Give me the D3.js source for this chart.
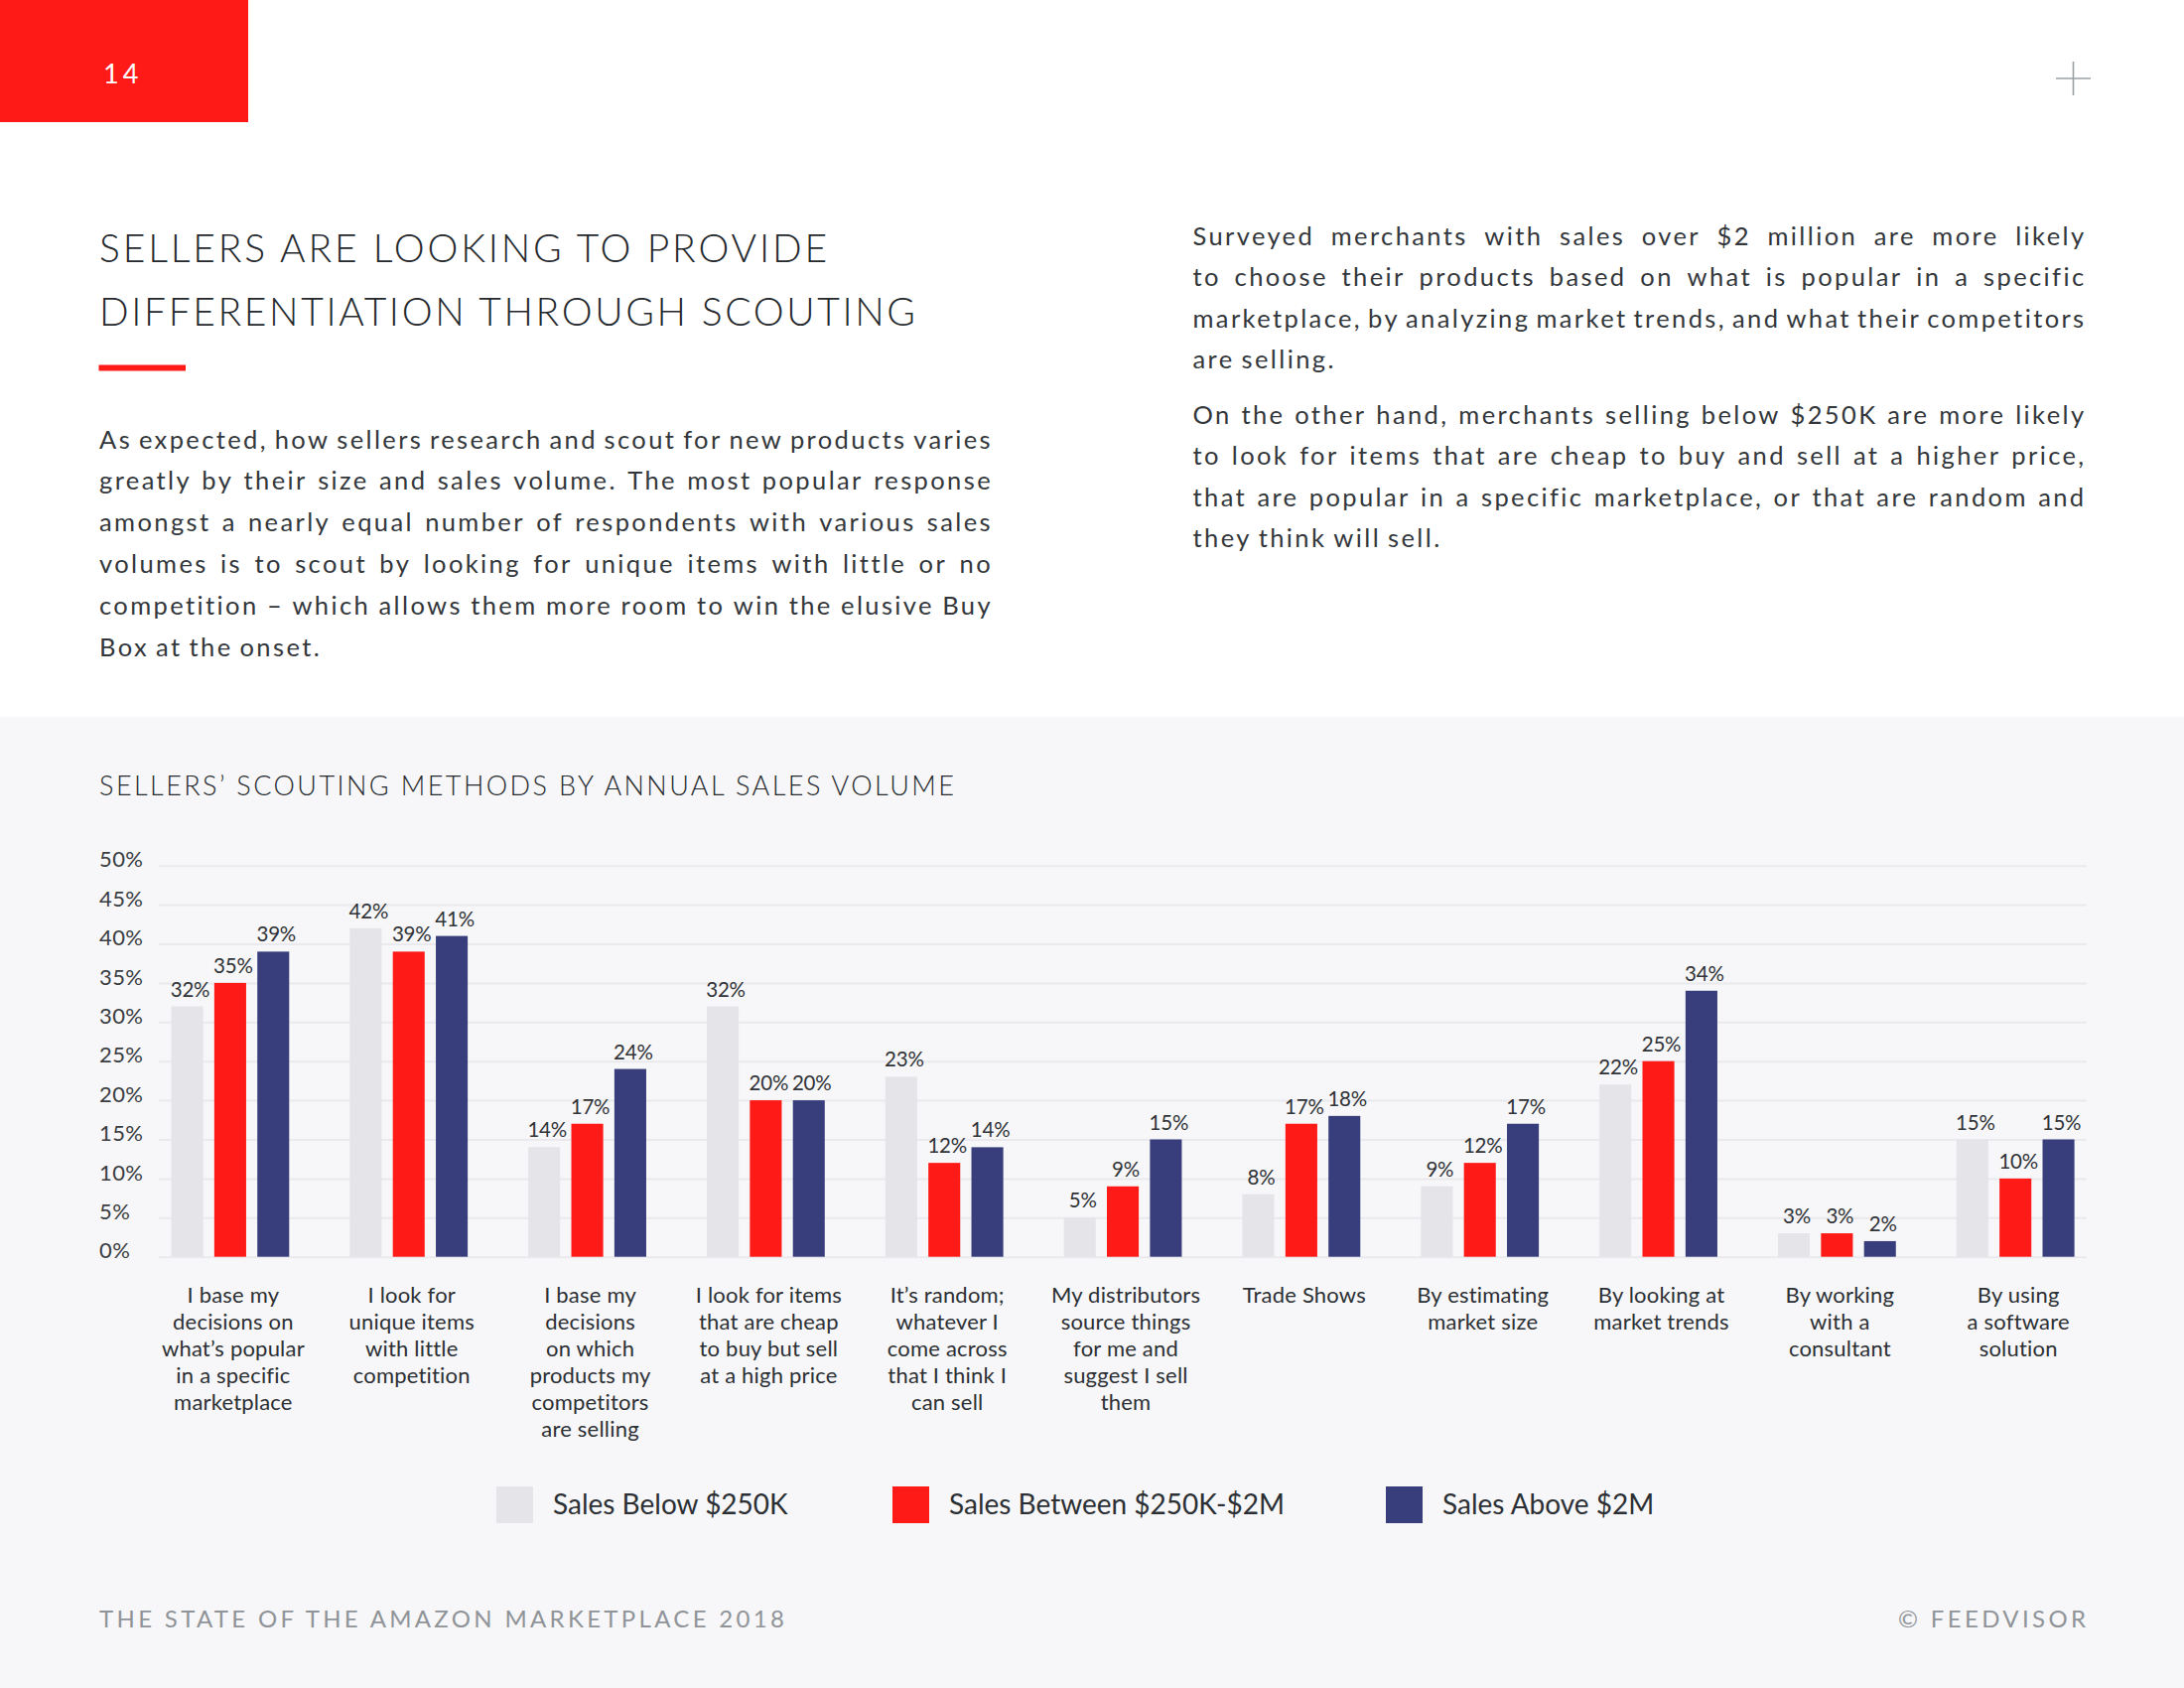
<!DOCTYPE html>
<html>
<head>
<meta charset="utf-8">
<title>Sellers' scouting methods by annual sales volume</title>
<script src="https://cdn.jsdelivr.net/npm/d3@7"></script>
<style>
  body { margin: 0; background: #ffffff; }
  svg { display: block; }
  text { font-family: Lato, "Open Sans", "Noto Sans", sans-serif; }
</style>
</head>
<body>
<svg id="page" width="2200" height="1700"></svg>
<script>
// Chart data
const seriesNames = ['Sales Below $250K', 'Sales Between $250K-$2M', 'Sales Above $2M'];
const categoryLines = [
    ['I base my', 'decisions on', 'what\u2019s popular', 'in a specific', 'marketplace'],
    ['I look for', 'unique items', 'with little', 'competition'],
    ['I base my', 'decisions', 'on which', 'products my', 'competitors', 'are selling'],
    ['I look for items', 'that are cheap', 'to buy but sell', 'at a high price'],
    ['It\u2019s random;', 'whatever I', 'come across', 'that I think I', 'can sell'],
    ['My distributors', 'source things', 'for me and', 'suggest I sell', 'them'],
    ['Trade Shows'],
    ['By estimating', 'market size'],
    ['By looking at', 'market trends'],
    ['By working', 'with a', 'consultant'],
    ['By using', 'a software', 'solution']
];
const salesBelow250k = [32, 42, 14, 32, 23, 5, 8, 9, 22, 3, 15];
const salesBetween = [35, 39, 17, 20, 12, 9, 17, 12, 25, 3, 10];
const salesAbove2m = [39, 41, 24, 20, 14, 15, 18, 17, 34, 2, 15];
const yTicks = [0, 5, 10, 15, 20, 25, 30, 35, 40, 45, 50];

// Page copy
const headingLines = ['SELLERS ARE LOOKING TO PROVIDE', 'DIFFERENTIATION THROUGH SCOUTING'];
const introLines = [
    'As expected, how sellers research and scout for new products varies',
    'greatly by their size and sales volume. The most popular response',
    'amongst a nearly equal number of respondents with various sales',
    'volumes is to scout by looking for unique items with little or no',
    'competition \u2013 which allows them more room to win the elusive Buy',
    'Box at the onset.'
];
const sideLinesA = [
    'Surveyed merchants with sales over $2 million are more likely',
    'to choose their products based on what is popular in a specific',
    'marketplace, by analyzing market trends, and what their competitors',
    'are selling.'
];
const sideLinesB = [
    'On the other hand, merchants selling below $250K are more likely',
    'to look for items that are cheap to buy and sell at a higher price,',
    'that are popular in a specific marketplace, or that are random and',
    'they think will sell.'
];
const chartTitle = 'SELLERS\u2019 SCOUTING METHODS BY ANNUAL SALES VOLUME';

const CONFIG = {
    colors: {
        red: '#fe1a17',
        below: '#e4e4e9',
        between: '#fe1a17',
        above: '#373e7b',
        ink: '#2c3034',
        grid: '#eaeaee',
        panel: '#f7f7f9',
        footer: '#909498',
        plus: '#9ba1a3'
    },
    plot: { left: 160, right: 2102, top: 871.7, bottom: 1265.7 },
    firstCenter: 231.9,
    lastCenter: 2030.2,
    groupWidth: 118.8,
    paraSize: 25.5,
    paraWidth: 900
};

const svg = d3.select('#page');

function drawHeader() {
    svg.append('rect').attr('x', 0).attr('y', 0).attr('width', 2200).attr('height', 1700).attr('fill', '#fff');
    svg.append('rect').attr('x', 0).attr('y', 0).attr('width', 250).attr('height', 123).attr('fill', CONFIG.colors.red);
    svg.append('text').attr('x', 104).attr('y', 84)
        .attr('font-size', 27).attr('letter-spacing', 4).attr('fill', '#fff').text('14');

    // plus mark top right
    svg.append('line').attr('x1', 2071).attr('x2', 2106).attr('y1', 79).attr('y2', 79)
        .attr('stroke', CONFIG.colors.plus).attr('stroke-width', 1.6);
    svg.append('line').attr('x1', 2088.5).attr('x2', 2088.5).attr('y1', 62).attr('y2', 96)
        .attr('stroke', CONFIG.colors.plus).attr('stroke-width', 1.6);

    const headingWidths = [733, 822];
    headingLines.forEach((line, i) => {
        svg.append('text').attr('x', 100).attr('y', 264 + i * 63.5)
            .attr('font-size', 39).attr('font-weight', 300).attr('fill', '#25292d')
            .attr('textLength', headingWidths[i]).attr('lengthAdjust', 'spacing')
            .text(line);
    });
    svg.append('rect').attr('x', 99.5).attr('y', 367.5).attr('width', 87.5).attr('height', 6)
        .attr('fill', CONFIG.colors.red);
}

/**
 * Find one letter-spacing for all paragraphs so the tightest justified line still fits
 */
function fitLetterSpacing(paragraphs) {
    const probe = svg.append('text').attr('font-size', CONFIG.paraSize);
    let best = Infinity;
    paragraphs.forEach(lines => {
        lines.slice(0, -1).forEach(line => {
            const words = line.split(' ');
            const natural = d3.sum(words, w => probe.text(w).node().getComputedTextLength());
            const chars = d3.sum(words, w => w.length);
            const ls = (CONFIG.paraWidth - natural - 6 * (words.length - 1)) / chars;
            best = Math.min(best, ls);
        });
    });
    probe.remove();
    return Math.max(0, best);
}

/**
 * Lay out a paragraph word by word so each line is justified to width
 */
function drawParagraph(lines, x, y0, lineHeight, letterSpacing) {
    const g = svg.append('g').attr('fill', '#33373b')
        .attr('font-size', CONFIG.paraSize).attr('letter-spacing', letterSpacing);
    lines.forEach((line, i) => {
        const y = y0 + i * lineHeight;
        const words = line.split(' ');
        const nodes = words.map(w => g.append('text').attr('y', y).text(w));
        const widths = nodes.map(n => n.node().getComputedTextLength());
        const isLast = i === lines.length - 1;
        const gap = isLast ? 7 : (CONFIG.paraWidth - d3.sum(widths)) / (words.length - 1);
        let cx = x;
        nodes.forEach((n, j) => {
            n.attr('x', cx);
            cx += widths[j] + gap;
        });
    });
}

function drawChart() {
    const c = CONFIG.colors;
    const p = CONFIG.plot;
    svg.append('rect').attr('x', 0).attr('y', 722).attr('width', 2200).attr('height', 978).attr('fill', c.panel);

    svg.append('text').attr('x', 100).attr('y', 801).attr('font-size', 27).attr('font-weight', 300)
        .attr('fill', '#25292d')
        .attr('textLength', 861).attr('lengthAdjust', 'spacing').text(chartTitle);

    const series = [
        { key: 'below', name: seriesNames[0], values: salesBelow250k, color: c.below },
        { key: 'between', name: seriesNames[1], values: salesBetween, color: c.between },
        { key: 'above', name: seriesNames[2], values: salesAbove2m, color: c.above }
    ];

    const step = (CONFIG.lastCenter - CONFIG.firstCenter) / (categoryLines.length - 1);
    const x0 = d3.scaleBand()
        .domain(d3.range(categoryLines.length))
        .range([CONFIG.firstCenter - step / 2, CONFIG.lastCenter + step / 2])
        .padding(0);
    const bw = x0.bandwidth();
    const x1 = d3.scaleBand()
        .domain(series.map(s => s.key))
        .range([bw / 2 - CONFIG.groupWidth / 2, bw / 2 + CONFIG.groupWidth / 2])
        .paddingInner(0.26);
    const y = d3.scaleLinear().domain([0, 50]).range([p.bottom, p.top]);

    // y axis with full-width gridlines
    const axis = svg.append('g')
        .attr('transform', `translate(${p.left},0)`)
        .call(d3.axisLeft(y).tickValues(yTicks).tickFormat(d => d + '%')
            .tickSizeInner(-(p.right - p.left)).tickSizeOuter(0));
    axis.select('.domain').remove();
    axis.selectAll('.tick line').attr('stroke', c.grid).attr('stroke-width', 2);
    axis.selectAll('.tick text')
        .attr('x', 100 - p.left).attr('dy', '0.05em').attr('text-anchor', 'start')
        .attr('font-family', 'Lato, sans-serif').attr('font-size', 22)
        .attr('letter-spacing', 0.4).attr('fill', '#3a3d41');

    const groups = svg.append('g').selectAll('g.group')
        .data(categoryLines.map((lines, i) => ({ i, lines })))
        .join('g')
        .attr('class', 'group')
        .attr('transform', d => `translate(${x0(d.i)},0)`);

    const bars = groups.selectAll('g.bar')
        .data(d => series.map(s => ({ key: s.key, color: s.color, value: s.values[d.i] })))
        .join('g').attr('class', 'bar');

    bars.append('rect')
        .attr('x', d => x1(d.key))
        .attr('width', x1.bandwidth())
        .attr('y', d => y(d.value))
        .attr('height', d => y(0) - y(d.value))
        .attr('fill', d => d.color);

    bars.append('text')
        .attr('x', d => x1(d.key) + x1.bandwidth() / 2 + 3)
        .attr('y', d => y(d.value) - 10)
        .attr('text-anchor', 'middle')
        .attr('font-size', 20.5).attr('letter-spacing', -0.2).attr('fill', '#303337')
        .text(d => d.value + '%');

    // category labels under each group
    groups.append('text')
        .attr('text-anchor', 'middle')
        .attr('font-size', 22).attr('letter-spacing', 0.2).attr('fill', c.ink)
        .selectAll('tspan')
        .data(d => d.lines)
        .join('tspan')
        .attr('x', bw / 2 + 3)
        .attr('y', (d, i) => 1311.7 + i * 27)
        .text(d => d);

    // legend
    const legendX = [500, 899, 1396];
    const legend = svg.append('g').selectAll('g')
        .data(series)
        .join('g')
        .attr('transform', (d, i) => `translate(${legendX[i]},1497)`);
    legend.append('rect').attr('width', 37).attr('height', 37).attr('fill', d => d.color);
    legend.append('text').attr('x', 57).attr('y', 28)
        .attr('font-size', 28).attr('fill', c.ink).text(d => d.name);
}

function drawFooter() {
    svg.append('text').attr('x', 100).attr('y', 1639).attr('font-size', 24)
        .attr('fill', CONFIG.colors.footer)
        .attr('textLength', 690).attr('lengthAdjust', 'spacing')
        .text('THE STATE OF THE AMAZON MARKETPLACE 2018');
    svg.append('text').attr('x', 1912).attr('y', 1639).attr('font-size', 24)
        .attr('fill', CONFIG.colors.footer)
        .attr('textLength', 189).attr('lengthAdjust', 'spacing')
        .text('\u00a9 FEEDVISOR');
}

drawHeader();
const paraSpacing = fitLetterSpacing([introLines, sideLinesA, sideLinesB]);
drawParagraph(introLines, 100, 451.5, 41.9, paraSpacing);
drawParagraph(sideLinesA, 1201.5, 247, 41.3, paraSpacing);
drawParagraph(sideLinesB, 1201.5, 427, 41.3, paraSpacing);
drawChart();
drawFooter();
</script>
</body>
</html>
